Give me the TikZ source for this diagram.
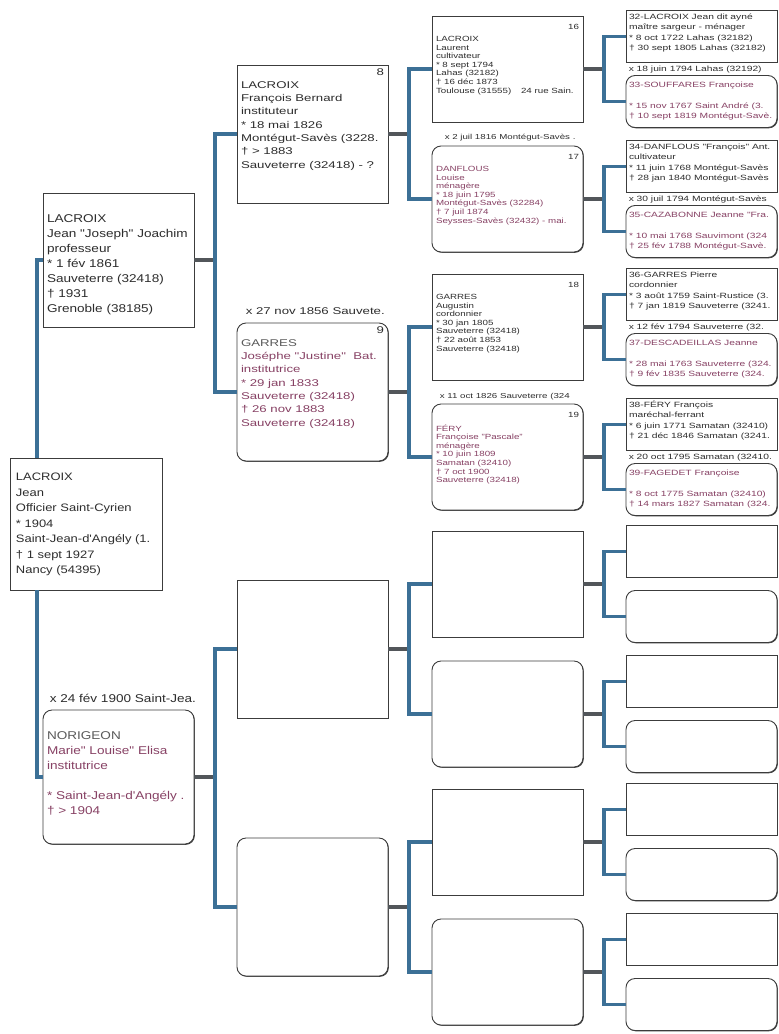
\documentclass[tikz,border=0pt]{standalone}
\usepackage{graphicx}
\usepackage{fontspec}
\setmainfont{Liberation Sans}
\newfontfamily\chartfont[FakeStretch=1.2]{Liberation Sans}
\newfontfamily\chartfontw[FakeStretch=1.35]{Liberation Sans}
\usetikzlibrary{shadows}
\definecolor{boxline}{RGB}{60,60,60}
\definecolor{linkblue}{RGB}{60,112,150}
\definecolor{stubgray}{RGB}{82,86,90}
\definecolor{ink}{RGB}{45,45,45}
\definecolor{femtext}{RGB}{135,65,100}
\definecolor{surname}{RGB}{90,90,90}

\newcommand\lone{\chartfont\fontsize{10.8}{15.5}\selectfont}
\newcommand\ltwo{\chartfont\fontsize{11.3}{15}\selectfont}
\newcommand\lthree{\chartfontw\fontsize{9.8}{13.3}\selectfont}
\newcommand\lfour{\chartfontw\fontsize{7.2}{8.6}\selectfont}
\newcommand\lfourplain{\fontsize{7.5}{8.6}\selectfont}
\newcommand\lfive{\chartfontw\fontsize{7.6}{10.3}\selectfont}
\newcommand\card[4]{\begin{minipage}[t][#1pt][t]{#2pt}\raggedright\vspace*{#3pt}\strut#4\end{minipage}}
% gen 4 cards: plain face, widened as a whole
\newcommand\cardw[4]{\scalebox{1.3}[1]{\card{#1}{#2}{#3}{#4}}}
\newcommand\fem{\color{femtext}}

\tikzset{
  male/.style={rectangle, draw=boxline, line width=0.9pt, fill=white, text=ink,
    inner xsep=4pt, inner ysep=0pt,
    drop shadow={shadow xshift=0.8pt, shadow yshift=-0.8pt, fill=boxline, opacity=1}},
  female/.style={male, rounded corners=9pt},
  gfour/.style={font=\lfourplain},
  gfive/.style={font=\lfive, inner xsep=3pt},
  link/.style={draw=linkblue, line width=3.2pt},
  stub/.style={draw=stubgray, line width=3.2pt},
  wed/.style={anchor=base west, inner sep=0pt, text=ink},
}

\begin{document}
\begin{tikzpicture}[x=1pt,y=-1pt]
\useasboundingbox (0,0) rectangle (779,1034);
\fill[white] (0,0) rectangle (779,1034);

% bracket columns
\coordinate (b1) at (37,0);
\coordinate (b2) at (215,0);
\coordinate (b3) at (409,0);
\coordinate (b4) at (604,0);

% generation 1
\node[male, inner xsep=6pt, font=\lone] (root) at (86,524)
  {\card{132}{140}{12}{LACROIX\\Jean\\Officier Saint-Cyrien\\{}* 1904\\Saint-Jean-d'Angély (1.\\† 1 sept 1927\\Nancy (54395)}};

% generation 2
\node[male, font=\ltwo] (father) at (118.5,260)
  {\card{134}{143}{18.5}{LACROIX\\Jean "Joseph" Joachim\\professeur\\{}* 1 fév 1861\\Sauveterre (32418)\\† 1931\\Grenoble (38185)}};
\node[female, font=\ltwo] (mother) at (118.5,777)
  {\card{134}{143}{18.5}{{\color{surname}NORIGEON}\\\fem Marie" Louise" Elisa\\institutrice\\\mbox{}\\{}* Saint-Jean-d'Angély .\\† > 1904}};
\node[wed, font=\ltwo, xshift=7pt, yshift=7pt] (m2) at (mother.north west) {x 24 fév 1900 Saint-Jea.};

% generation 3
\node[male, font=\lthree] (p8) at (312.5,134)
  {\card{138}{143}{0.7}{\hfill 8\\LACROIX\\François Bernard\\instituteur\\{}* 18 mai 1826\\Montégut-Savès (3228.\\† > 1883\\Sauveterre (32418) - ?}};
\node[female, font=\lthree] (p9) at (312.5,392)
  {\card{138}{143}{0.7}{\hfill 9\\{\color{surname}GARRES}\\\fem Joséphe "Justine"\ \ Bat.\\institutrice\\{}* 29 jan 1833\\Sauveterre (32418)\\† 26 nov 1883\\Sauveterre (32418)}};
\node[wed, font=\lthree, xshift=9pt, yshift=8pt] (m9) at (p9.north west) {x 27 nov 1856 Sauvete.};
\node[male, font=\lthree] (p10) at (312.5,649) {\card{138}{143}{0}{}};
\node[female, font=\lthree] (p11) at (312.5,907) {\card{138}{143}{0}{}};

% generation 4
\node[male, gfour] (p16) at (507.5,69)
  {\cardw{106}{110}{7.5}{\hfill 16\\[3.4pt]LACROIX\\Laurent\\cultivateur\\{}* 8 sept 1794\\Lahas (32182)\\† 16 déc 1873\\Toulouse (31555)\quad 24 rue Sain.}};
\node[female, gfour] (p17) at (507.5,199)
  {\cardw{106}{110}{7.5}{\hfill 17\\[3.4pt]\fem DANFLOUS\\Louise\\ménagère\\{}* 18 juin 1795\\Montégut-Savès (32284)\\† 7 juil 1874\\Seysses-Savès (32432) - mai.}};
\node[wed, font=\lfour, xshift=13pt, yshift=6pt] (m17) at (p17.north west) {x 2 juil 1816 Montégut-Savès .};
\node[male, gfour] (p18) at (507.5,327)
  {\cardw{106}{110}{7.5}{\hfill 18\\[3.4pt]GARRES\\Augustin\\cordonnier\\{}* 30 jan 1805\\Sauveterre (32418)\\† 22 août 1853\\Sauveterre (32418)}};
\node[female, gfour] (p19) at (507.5,457)
  {\cardw{106}{110}{7.5}{\hfill 19\\[3.4pt]\fem FÉRY\\Françoise "Pascale"\\ménagère\\{}* 10 juin 1809\\Samatan (32410)\\† 7 oct 1900\\Sauveterre (32418)}};
\node[wed, font=\lfour, xshift=8pt, yshift=5pt] (m19) at (p19.north west) {x 11 oct 1826 Sauveterre (324};
\node[male, gfour] (p20) at (507.5,584) {\cardw{106}{110}{0}{}};
\node[female, gfour] (p21) at (507.5,714) {\cardw{106}{110}{0}{}};
\node[male, gfour] (p22) at (507.5,842) {\cardw{106}{110}{0}{}};
\node[female, gfour] (p23) at (507.5,972) {\cardw{106}{110}{0}{}};

% generation 5
\node[male, gfive] (p32) at (701.5,36.5)
  {\card{52}{145}{1.8}{32-LACROIX Jean dit ayné\\maître sargeur - ménager\\{}* 8 oct 1722 Lahas (32182)\\† 30 sept 1805 Lahas (32182)}};
\node[female, gfive] (p33) at (701.5,101.5)
  {\card{52}{145}{5}{\fem 33-SOUFFARES Françoise\\\mbox{}\\{}* 15 nov 1767 Saint André (3.\\† 10 sept 1819 Montégut-Savè.}};
\node[wed, font=\lfive, xshift=3pt, yshift=3.5pt] (m33) at (p33.north west) {x 18 juin 1794 Lahas (32192)};
\node[male, gfive] (p34) at (701.5,166.5)
  {\card{52}{145}{1.8}{34-DANFLOUS "François" Ant.\\cultivateur\\{}* 11 juin 1768 Montégut-Savès\\† 28 jan 1840 Montégut-Savès}};
\node[female, gfive] (p35) at (701.5,231.5)
  {\card{52}{145}{5}{\fem 35-CAZABONNE Jeanne "Fra.\\\mbox{}\\{}* 10 mai 1768 Sauvimont (324\\† 25 fév 1788 Montégut-Savè.}};
\node[wed, font=\lfive, xshift=3pt, yshift=3.5pt] (m35) at (p35.north west) {x 30 juil 1794 Montégut-Savès};
\node[male, gfive] (p36) at (701.5,294.5)
  {\card{52}{145}{1.8}{36-GARRES Pierre\\cordonnier\\{}* 3 août 1759 Saint-Rustice (3.\\† 7 jan 1819 Sauveterre (3241.}};
\node[female, gfive] (p37) at (701.5,359.5)
  {\card{52}{145}{5}{\fem 37-DESCADEILLAS Jeanne\\\mbox{}\\{}* 28 mai 1763 Sauveterre (324.\\† 9 fév 1835 Sauveterre (324.}};
\node[wed, font=\lfive, xshift=3pt, yshift=3.5pt] (m37) at (p37.north west) {x 12 fév 1794 Sauveterre (32.};
\node[male, gfive] (p38) at (701.5,424.5)
  {\card{52}{145}{1.8}{38-FÉRY François\\maréchal-ferrant\\{}* 6 juin 1771 Samatan (32410)\\† 21 déc 1846 Samatan (3241.}};
\node[female, gfive] (p39) at (701.5,489.5)
  {\card{52}{145}{5}{\fem 39-FAGEDET Françoise\\\mbox{}\\{}* 8 oct 1775 Samatan (32410)\\† 14 mars 1827 Samatan (324.}};
\node[wed, font=\lfive, xshift=3pt, yshift=3.5pt] (m39) at (p39.north west) {x 20 oct 1795 Samatan (32410.};
\node[male, gfive] (p40) at (701.5,551.5) {\card{52}{145}{0}{}};
\node[female, gfive] (p41) at (701.5,616.5) {\card{52}{145}{0}{}};
\node[male, gfive] (p42) at (701.5,681.5) {\card{52}{145}{0}{}};
\node[female, gfive] (p43) at (701.5,746.5) {\card{52}{145}{0}{}};
\node[male, gfive] (p44) at (701.5,809.5) {\card{52}{145}{0}{}};
\node[female, gfive] (p45) at (701.5,874.5) {\card{52}{145}{0}{}};
\node[male, gfive] (p46) at (701.5,939.5) {\card{52}{145}{0}{}};
\node[female, gfive] (p47) at (701.5,1004.5) {\card{52}{145}{0}{}};

% connectors
\draw[link] (root.north -| b1) |- (father.west);
\draw[link] (root.south -| b1) |- (mother.west);

\draw[stub] (father.east) -- (father.east -| b2);
\draw[link] (p8.west) -| (father.east -| b2) |- (p9.west);
\draw[stub] (mother.east) -- (mother.east -| b2);
\draw[link] (p10.west) -| (mother.east -| b2) |- (p11.west);

\draw[stub] (p8.east) -- (p8.east -| b3);
\draw[link] (p16.west) -| (p8.east -| b3) |- (p17.west);
\draw[stub] (p9.east) -- (p9.east -| b3);
\draw[link] (p18.west) -| (p9.east -| b3) |- (p19.west);
\draw[stub] (p10.east) -- (p10.east -| b3);
\draw[link] (p20.west) -| (p10.east -| b3) |- (p21.west);
\draw[stub] (p11.east) -- (p11.east -| b3);
\draw[link] (p22.west) -| (p11.east -| b3) |- (p23.west);

\draw[stub] (p16.east) -- (p16.east -| b4);
\draw[link] (p32.west) -| (p16.east -| b4) |- (p33.west);
\draw[stub] (p17.east) -- (p17.east -| b4);
\draw[link] (p34.west) -| (p17.east -| b4) |- (p35.west);
\draw[stub] (p18.east) -- (p18.east -| b4);
\draw[link] (p36.west) -| (p18.east -| b4) |- (p37.west);
\draw[stub] (p19.east) -- (p19.east -| b4);
\draw[link] (p38.west) -| (p19.east -| b4) |- (p39.west);
\draw[stub] (p20.east) -- (p20.east -| b4);
\draw[link] (p40.west) -| (p20.east -| b4) |- (p41.west);
\draw[stub] (p21.east) -- (p21.east -| b4);
\draw[link] (p42.west) -| (p21.east -| b4) |- (p43.west);
\draw[stub] (p22.east) -- (p22.east -| b4);
\draw[link] (p44.west) -| (p22.east -| b4) |- (p45.west);
\draw[stub] (p23.east) -- (p23.east -| b4);
\draw[link] (p46.west) -| (p23.east -| b4) |- (p47.west);
\end{tikzpicture}
\end{document}
